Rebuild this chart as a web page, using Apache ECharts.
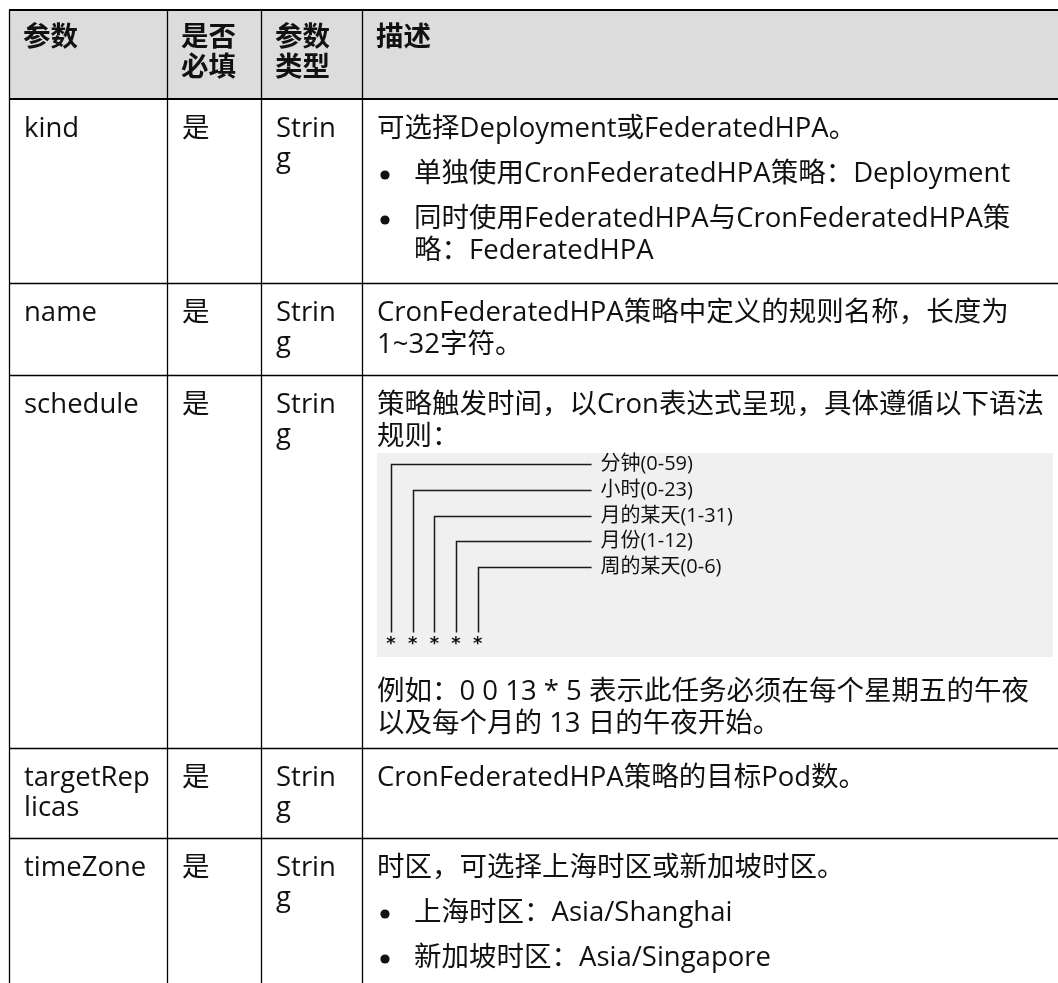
<!DOCTYPE html>
<html>
<head>
<meta charset="utf-8">
<script src="https://cdn.jsdelivr.net/npm/echarts@6/dist/echarts.min.js"></script>
<style>
html,body{margin:0;padding:0;background:#fff;}
#c{width:1058px;height:983px;}
</style>
</head>
<body>
<div id="c"></div>
<script>
// ---------- content ----------
const headers = ['参数', '是否\n必填', '参数\n类型', '描述'];
const paramNames = ['kind', 'name', 'schedule', 'targetRep\nlicas', 'timeZone'];
const requiredFlags = ['是', '是', '是', '是', '是'];
const paramTypes = ['Strin\ng', 'Strin\ng', 'Strin\ng', 'Strin\ng', 'Strin\ng'];
const cronFields = ['分钟(0-59)', '小时(0-23)', '月的某天(1-31)', '月份(1-12)', '周的某天(0-6)'];
const cronStars = '* * * * *';
const descKind = [
  { kind: 'p', lines: ['可选择Deployment或FederatedHPA。'] },
  { kind: 'li', lines: ['单独使用CronFederatedHPA策略：Deployment'] },
  { kind: 'li', lines: ['同时使用FederatedHPA与CronFederatedHPA策', '略：FederatedHPA'] }
];
const descName = [
  { kind: 'p', lines: ['CronFederatedHPA策略中定义的规则名称，长度为', '1~32字符。'] }
];
const descSchedule = [
  { kind: 'p', lines: ['策略触发时间，以Cron表达式呈现，具体遵循以下语法', '规则：'] },
  { kind: 'code' },
  { kind: 'p', lines: ['例如：0 0 13 * 5 表示此任务必须在每个星期五的午夜', '以及每个月的 13 日的午夜开始。'] }
];
const descTargetReplicas = [
  { kind: 'p', lines: ['CronFederatedHPA策略的目标Pod数。'] }
];
const descTimeZone = [
  { kind: 'p', lines: ['时区，可选择上海时区或新加坡时区。'] },
  { kind: 'li', lines: ['上海时区：Asia/Shanghai'] },
  { kind: 'li', lines: ['新加坡时区：Asia/Singapore'] }
];
const descriptions = [descKind, descName, descSchedule, descTargetReplicas, descTimeZone];

// ---------- layout ----------
const W = 1058, H = 983;
const TABLE_LEFT = 9, TABLE_TOP = 10;
const colWidths = [158, 94, 101, 706];
const rowHeights = [89, 184, 92, 373, 90, 170];
const PAD = 15;
const FONT_SIZE = 27.5;
const FIRST_LINE = 30;      // first line centre from cell top
const CELL_STEP = 30;       // line step in narrow cells
const WRAP_STEP = 32;       // wrapped line step in description
const PARA_STEP = 45;       // paragraph / list item step
const CODE_LINE = 25.8;
const CODE_CHAR = 10.84;
const FONT = '"Open Sans", "Noto Sans CJK SC", sans-serif';
const MONO = '"DejaVu Sans Mono", monospace';
const TEXT_COLOR = '#111111';

const colEdges = [TABLE_LEFT];
colWidths.forEach(w => colEdges.push(colEdges[colEdges.length - 1] + w));
const rowEdges = [TABLE_TOP];
rowHeights.forEach(h => rowEdges.push(rowEdges[rowEdges.length - 1] + h));

const cellData = [];
for (let r = 0; r < rowHeights.length; r++) for (let c = 0; c < colWidths.length; c++) cellData.push([c, r]);

const lineData = [];
rowEdges.forEach((y, i) => lineData.push([0, i]));
colEdges.forEach((x, i) => lineData.push([1, i]));

function txt(x, y, text, opt) {
  return {
    type: 'text',
    x: x, y: y,
    style: Object.assign({
      text: text, fill: TEXT_COLOR, fontSize: FONT_SIZE, fontFamily: FONT,
      align: 'left', verticalAlign: 'middle'
    }, opt || {})
  };
}

function renderCell(params, api) {
  const c = api.value(0), r = api.value(1);
  const p0 = api.coord([colEdges[c], rowEdges[r]]);
  const p1 = api.coord([colEdges[c + 1], rowEdges[r + 1]]);
  const children = [{
    type: 'rect',
    shape: { x: p0[0], y: p0[1], width: p1[0] - p0[0], height: p1[1] - p0[1] },
    style: { fill: r === 0 ? '#dcdcdc' : '#ffffff' }
  }];
  const left = p0[0] + PAD;
  if (r === 0) {
    headers[c].split('\n').forEach((ln, i) => {
      children.push(txt(left - 1, p0[1] + 28 + i * CELL_STEP, ln, { fontWeight: 'bold' }));
    });
  } else if (c < 3) {
    const src = [paramNames, requiredFlags, paramTypes][c][r - 1];
    src.split('\n').forEach((ln, i) => {
      children.push(txt(left, p0[1] + FIRST_LINE + i * CELL_STEP, ln));
    });
  } else {
    const blocks = descriptions[r - 1];
    let y = p0[1] + FIRST_LINE;
    let prevLast = y;
    blocks.forEach(b => {
      if (b.kind === 'code') {
        const boxTop = prevLast + 16;
        const boxH = 11 + 7 * CODE_LINE + 12.4;
        const boxLeft = left;
        const boxRight = p1[0] - PAD;
        children.push({
          type: 'rect',
          shape: { x: boxLeft, y: boxTop, width: boxRight - boxLeft, height: boxH },
          style: { fill: '#f0f0f0' }
        });
        const x0 = boxLeft + 8.6 + CODE_CHAR / 2;
        const endX = boxLeft + 8.6 + CODE_CHAR * 19;
        const starY = boxTop + 11 + 7 * CODE_LINE;
        cronFields.forEach((f, i) => {
          const vx = Math.round(x0 + 2 * i * CODE_CHAR) + 0.5;
          const hy = Math.round(boxTop + 11 + i * CODE_LINE) + 0.5;
          children.push({
            type: 'polyline',
            shape: { points: [[vx, starY - 12], [vx, hy], [endX, hy]] },
            style: { stroke: '#1a1a1a', lineWidth: 1.5, fill: null }
          });
          children.push(txt(endX + CODE_CHAR - 2, hy, f, { fontSize: 20 }));
        });
        children.push(txt(boxLeft + 8.6, starY, cronStars, { fontSize: 18, fontFamily: MONO, fontWeight: 'bold' }));
        prevLast = boxTop + boxH;
        y = prevLast + 35;
      } else {
        b.lines.forEach((ln, i) => {
          const ly = y + i * WRAP_STEP;
          if (b.kind === 'li') {
            if (i === 0) {
              children.push({
                type: 'circle',
                shape: { cx: left + 8, cy: ly + 1, r: 4.6 },
                style: { fill: TEXT_COLOR }
              });
            }
            children.push(txt(left + 37, ly, ln));
          } else {
            children.push(txt(left, ly, ln));
          }
        });
        prevLast = y + (b.lines.length - 1) * WRAP_STEP;
        y = prevLast + PARA_STEP;
      }
    });
  }
  return { type: 'group', children: children };
}

function renderLine(params, api) {
  const kind = api.value(0), i = api.value(1);
  if (kind === 0) {
    const yv = rowEdges[i];
    const a = api.coord([colEdges[0], yv]);
    const b = api.coord([colEdges[colEdges.length - 1], yv]);
    const thick = (i <= 1);
    const yy = thick ? Math.round(a[1]) : Math.round(a[1]) + 0.5;
    return {
      type: 'line',
      shape: { x1: a[0], y1: yy, x2: b[0], y2: yy },
      style: { stroke: '#000', lineWidth: thick ? 2 : 1.3 }
    };
  }
  const xv = colEdges[i];
  const a = api.coord([xv, rowEdges[0]]);
  const b = api.coord([xv, rowEdges[rowEdges.length - 1]]);
  const xx = Math.round(a[0]) + 0.5;
  return {
    type: 'line',
    shape: { x1: xx, y1: a[1], x2: xx, y2: b[1] },
    style: { stroke: '#000', lineWidth: 1.3 }
  };
}

const chart = echarts.init(document.getElementById('c'), null, { renderer: 'canvas' });
chart.setOption({
  animation: false,
  backgroundColor: '#ffffff',
  grid: { left: 0, right: 0, top: 0, bottom: 0 },
  xAxis: { type: 'value', min: 0, max: W, show: false },
  yAxis: { type: 'value', min: 0, max: H, inverse: true, show: false },
  series: [
    { type: 'custom', name: 'cells', z: 1, clip: false, renderItem: renderCell, data: cellData, silent: true },
    { type: 'custom', name: 'borders', z: 3, clip: false, renderItem: renderLine, data: lineData, silent: true }
  ]
});
</script>
</body>
</html>
